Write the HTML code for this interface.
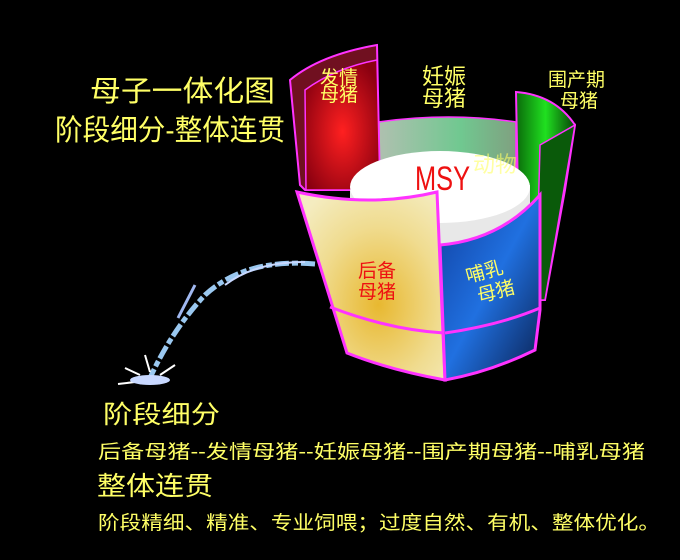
<!DOCTYPE html>
<html><head><meta charset="utf-8"><style>
html,body{margin:0;padding:0;background:#000;}
svg{display:block}
text{font-family:"Liberation Sans","Noto Sans CJK SC",sans-serif;}
</style></head><body>
<svg width="680" height="560" viewBox="0 0 680 560" xmlns="http://www.w3.org/2000/svg">
<defs>
<radialGradient id="red" cx="0.5" cy="0.55" r="0.6"><stop offset="0" stop-color="#ff2020"/><stop offset="1" stop-color="#8a0010"/></radialGradient>
<linearGradient id="grn" x1="0" y1="0" x2="1" y2="0"><stop offset="0" stop-color="#0a6a0a"/><stop offset="0.5" stop-color="#20e020"/><stop offset="1" stop-color="#064006"/></linearGradient>
<linearGradient id="back" x1="0" y1="0" x2="1" y2="0"><stop offset="0" stop-color="#b0c0b0"/><stop offset="0.6" stop-color="#70c890"/><stop offset="1" stop-color="#80a080"/></linearGradient>
<radialGradient id="yel" cx="0.55" cy="0.6" r="0.7"><stop offset="0" stop-color="#e8b830"/><stop offset="0.6" stop-color="#f0dc90"/><stop offset="1" stop-color="#f4ecc0"/></radialGradient>
<linearGradient id="blu" x1="0" y1="0" x2="1" y2="1"><stop offset="0" stop-color="#1040a0"/><stop offset="0.5" stop-color="#2070e0"/><stop offset="1" stop-color="#0a2050"/></linearGradient>
</defs>

<text x="90" y="101" font-size="29" fill="#ffff66" textLength="185" lengthAdjust="spacingAndGlyphs">母子一体化图</text>
<text x="55" y="140" font-size="29" fill="#ffff66" textLength="230" lengthAdjust="spacingAndGlyphs">阶段细分-整体连贯</text>

<path d="M378,122 Q450,112 516,122 L516,230 L378,230 Z" fill="url(#back)" stroke="#ff33ff" stroke-width="1.5"/>
<path d="M290,80 Q320,55 377,45 L380,190 L305,190 L300,185 Z" fill="#701020" stroke="#ff33ff" stroke-width="2"/>
<path d="M305,90 Q335,68 377,60 L380,190 L306,190 Z" fill="url(#red)" stroke="#ff33ff" stroke-width="1.5"/>
<path d="M516,92 Q555,95 575,125 L565,190 L545,300 L520,300 Z" fill="url(#grn)" stroke="#ff33ff" stroke-width="2"/>
<path d="M540,145 L575,125 L545,300 L536,300 Z" fill="#0a5a0a" stroke="#ff33ff" stroke-width="1.5"/>
<path d="M350,190 L350,240 Q440,270 530,220 L530,185 Z" fill="#e8e8e8"/>
<ellipse cx="440" cy="187" rx="90" ry="36" fill="#fff"/>
<text x="415" y="190" font-size="34" fill="#ee1111" textLength="55" lengthAdjust="spacingAndGlyphs">MSY</text>
<text x="473" y="172" font-size="22" fill="#ffff66" opacity="0.6">动物</text>

<path d="M297,192 Q370,208 437,192 L445,380 Q390,370 347,353 Z" fill="url(#yel)" stroke="#ff33ff" stroke-width="3"/>
<path d="M330,307 Q390,330 444,333" fill="none" stroke="#ff33ff" stroke-width="3"/>
<path d="M440,245 Q500,240 540,195 L540,310 L535,350 Q490,372 445,380 Z" fill="url(#blu)" stroke="#ff33ff" stroke-width="3"/>
<path d="M445,333 Q500,325 540,308" fill="none" stroke="#ff33ff" stroke-width="3"/>

<text x="358" y="277" font-size="19" fill="#ee1111">后备</text>
<text x="358" y="298" font-size="19" fill="#ee1111">母猪</text>
<g transform="rotate(-15 498 280)">
<text x="468" y="275" font-size="19" fill="#ffff66">哺乳</text>
<text x="474" y="297" font-size="19" fill="#ffff66">母猪</text>
</g>
<text x="320" y="84" font-size="19" fill="#ffff66">发情</text>
<text x="320" y="101" font-size="19" fill="#ffff66">母猪</text>
<text x="422" y="84" font-size="22" fill="#ffff66">妊娠</text>
<text x="422" y="106" font-size="22" fill="#ffff66">母猪</text>
<text x="548" y="86" font-size="19" fill="#ffff66">围产期</text>
<text x="560" y="107" font-size="19" fill="#ffff66">母猪</text>

<!-- water -->
<path d="M315,264 Q245,258 205,295 Q172,330 150,378" fill="none" stroke="#9ac8f0" stroke-width="5" stroke-dasharray="14 3 6 3"/>
<path d="M305,262 Q255,262 225,285" fill="none" stroke="#c8d8ff" stroke-width="2"/>
<path d="M195,285 L178,318" stroke="#a0b8f0" stroke-width="3"/>
<path d="M140,375 L125,368 M150,372 L145,355 M160,375 L175,365 M135,382 L118,384" stroke="#ffffff" stroke-width="2"/>
<ellipse cx="150" cy="380" rx="20" ry="5" fill="#c8d8ff"/>

<text x="103" y="423" font-size="25" fill="#ffff66" textLength="117" lengthAdjust="spacingAndGlyphs">阶段细分</text>
<text x="98" y="458" font-size="19" fill="#ffff66" textLength="547" lengthAdjust="spacingAndGlyphs">后备母猪--发情母猪--妊娠母猪--围产期母猪--哺乳母猪</text>
<text x="97" y="495" font-size="26" fill="#ffff66" textLength="116" lengthAdjust="spacingAndGlyphs">整体连贯</text>
<text x="98" y="529" font-size="19" fill="#ffff66" textLength="562" lengthAdjust="spacingAndGlyphs">阶段精细、精准、专业饲喂；过度自然、有机、整体优化。</text>
</svg>
</body></html>
